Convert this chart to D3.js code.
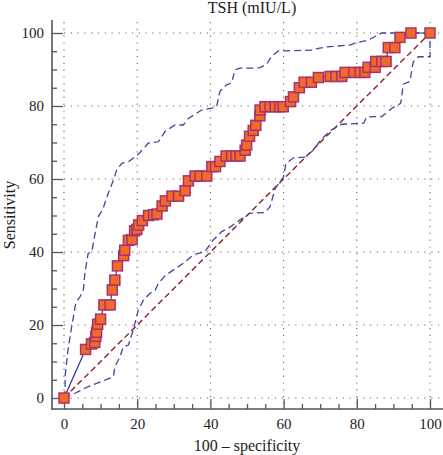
<!DOCTYPE html>
<html><head><meta charset="utf-8">
<script src="https://cdn.jsdelivr.net/npm/d3@7/dist/d3.min.js"></script>
<style>html,body{margin:0;padding:0;background:#fff;}svg{display:block;}</style>
</head><body>
<script>
const title = "TSH (mIU/L)";
const xLabel = "100 \u2013 specificity";
const yLabel = "Sensitivity";
const majorTicks = [0, 20, 40, 60, 80, 100];
const minorTicks = [5, 10, 15, 25, 30, 35, 45, 50, 55, 65, 70, 75, 85, 90, 95];

// ROC curve points (100 - specificity, sensitivity)
const rocX = [0,5.9,7.5,8.4,8.7,8.9,9.2,10.0,10.9,12.6,13.2,13.9,14.6,16.3,16.6,17.6,18.6,19.3,19.9,20.4,21.4,23.1,24.5,25.4,26.8,27.7,29.5,31.3,33.1,34.0,35.8,37.2,39.0,40.4,41.4,42.6,44.3,45.8,47.0,48.1,49.5,49.9,50.7,51.7,52.4,53.5,53.6,54.9,56.3,57.7,59.0,59.9,61.9,62.7,64.3,65.6,67.6,69.5,72.7,74.3,75.9,76.8,79.2,80.9,82.2,83.1,85.0,85.2,86.8,88.0,88.6,90.4,91.8,94.8,100];
const rocY = [0,13.3,14.8,15.2,16.9,18.0,20.2,21.6,25.5,25.5,29.6,32.3,36.2,39.0,40.5,43.2,43.4,45.8,46.2,47.4,48.6,50.0,50.2,50.4,52.6,54.0,55.3,55.3,56.8,59.5,60.8,60.8,60.8,63.4,63.4,64.8,66.3,66.3,66.3,66.3,67.9,69.3,71.7,73.3,74.7,77.3,78.9,79.8,79.8,79.8,79.8,79.8,81.2,82.5,85.0,86.5,86.5,87.8,88.1,88.1,88.1,89.2,89.2,89.2,89.2,90.6,90.6,92.2,92.2,92.2,96.0,96.0,98.8,100,100];

// Upper confidence bound
const upX = [0,0.3,0.3,1.2,2.1,3.2,4.4,5.3,5.7,6.6,7.6,8.5,9.4,10.7,12.1,13.5,14.4,15.8,17.6,19.4,20.5,23,25.8,27.6,30.3,32.6,34,37.6,40.4,41.7,42.6,44.4,45.8,46.7,48.1,52.2,53.6,55.4,56.7,58.6,68.1,69.5,71.8,78.1,79.5,83.2,86.8,100];
const upY = [0,2,6,14,19.5,25.9,27.8,29.6,34.2,39.6,40.1,45.1,49.7,52,56.1,59.7,62.5,64.3,64.7,66.1,67,69.8,70.2,73,74.8,74.8,76.6,78.9,79.4,79.8,84,85.8,86.3,89.9,90.4,90.4,90.5,91.5,93.6,95.1,95.3,95.8,96.2,96.7,97.2,98.1,100,100];

// Lower confidence bound
const loX = [0,3,6.6,11.2,13.5,13.9,15.3,16.2,17.6,18.9,20.3,21.7,23.5,24.9,25.8,27.6,29.9,32.6,35.3,38.5,40.8,43.1,44.9,48.1,50.8,54.9,56.3,57.7,60,60.6,62.7,66,68.1,70.4,73.1,75.9,81.9,82.7,86.8,89.6,92,92.7,94.5,95.4,96.8,100,100];
const loY = [0,1.3,3.1,4.9,5.8,8.6,11.3,14,14.5,18.6,24.1,26.8,28.7,29.5,31.4,33.5,35.1,36.9,39.2,40.1,43.3,45.6,46.5,48.8,50.6,50.8,52.4,57.4,60.6,64.2,65.8,66,67.9,71,73.5,75,75.3,77,77.1,79.4,80.7,86,86.7,92,93.5,93.5,100];

const diagX = [0, 100];
const diagY = [0, 100];

const W = 443, H = 455;
const axisX = 52, axisY = 409;
const x = d3.scaleLinear().domain([0, 100]).range([64, 430]);
const y = d3.scaleLinear().domain([0, 100]).range([398, 33]);

const svg = d3.select("body").append("svg").attr("width", W).attr("height", H);
const serif = "'Liberation Serif', 'DejaVu Serif', serif";

// grid
const grid = svg.append("g").attr("stroke", "#666").attr("stroke-width", 1.1)
  .attr("stroke-dasharray", "1.2,5.6").attr("fill", "none");
grid.selectAll("line.v").data(majorTicks).join("line")
  .attr("x1", d => x(d)).attr("x2", d => x(d)).attr("y1", 22).attr("y2", axisY);
grid.selectAll("line.h").data(majorTicks).join("line")
  .attr("y1", d => y(d)).attr("y2", d => y(d)).attr("x1", x(0)).attr("x2", W);

// axes
const axG = svg.append("g");
function styleAxis(g) {
  g.select(".domain").remove();
  g.selectAll(".tick line").attr("stroke", "#555").attr("stroke-width", 1.3);
  g.selectAll(".tick text").attr("font-family", serif).attr("font-size", 15).attr("fill", "#222");
}
axG.append("g").attr("transform", `translate(${axisX},0)`)
  .call(d3.axisLeft(y).tickValues(majorTicks).tickSize(-11).tickPadding(8).tickFormat(d3.format("d")))
  .call(styleAxis);
axG.append("g").attr("transform", `translate(${axisX},0)`)
  .call(d3.axisLeft(y).tickValues(minorTicks).tickSize(-5).tickFormat(""))
  .call(styleAxis);
axG.append("g").attr("transform", `translate(0,${axisY})`)
  .call(d3.axisBottom(x).tickValues(majorTicks).tickSize(-10).tickPadding(9).tickFormat(d3.format("d")))
  .call(styleAxis);
axG.append("g").attr("transform", `translate(0,${axisY})`)
  .call(d3.axisBottom(x).tickValues(minorTicks).tickSize(-5).tickFormat(""))
  .call(styleAxis);
axG.append("line").attr("x1", axisX).attr("x2", axisX).attr("y1", 20).attr("y2", axisY + 0.7)
  .attr("stroke", "#555").attr("stroke-width", 1.6);
axG.append("line").attr("x1", axisX - 0.7).attr("x2", W).attr("y1", axisY).attr("y2", axisY)
  .attr("stroke", "#555").attr("stroke-width", 1.6);

const line = d3.line().x(d => x(d[0])).y(d => y(d[1]));
const zip = (a, b) => a.map((v, i) => [v, b[i]]);

// diagonal
svg.append("path").datum(zip(diagX, diagY)).attr("d", line)
  .attr("fill", "none").attr("stroke", "#8e1b2e").attr("stroke-width", 1.4).attr("stroke-dasharray", "6,3.5");

// confidence bands
[zip(upX, upY), zip(loX, loY)].forEach(pts => {
  svg.append("path").datum(pts).attr("d", line)
    .attr("fill", "none").attr("stroke", "#45459a").attr("stroke-width", 1.3).attr("stroke-dasharray", "7,4");
});

// ROC line
const roc = zip(rocX, rocY);
svg.append("path").datum(roc).attr("d", line)
  .attr("fill", "none").attr("stroke", "#35358e").attr("stroke-width", 1.2);

// squares
const s = 10;
svg.append("g").selectAll("rect").data(roc).join("rect")
  .attr("x", d => x(d[0]) - s / 2).attr("y", d => y(d[1]) - s / 2)
  .attr("width", s).attr("height", s)
  .attr("fill", "#f26a2a").attr("stroke", "#a8336c").attr("stroke-width", 1.5);

// texts
svg.append("text").attr("x", 252).attr("y", 13).attr("text-anchor", "middle")
  .attr("font-family", serif).attr("font-size", 16).attr("fill", "#222").text(title);
svg.append("text").attr("x", 247).attr("y", 451).attr("text-anchor", "middle")
  .attr("font-family", serif).attr("font-size", 16).attr("fill", "#222").text(xLabel);
svg.append("text").attr("transform", "translate(15,215) rotate(-90)").attr("text-anchor", "middle")
  .attr("font-family", serif).attr("font-size", 16).attr("fill", "#222").text(yLabel);
</script>
</body></html>
